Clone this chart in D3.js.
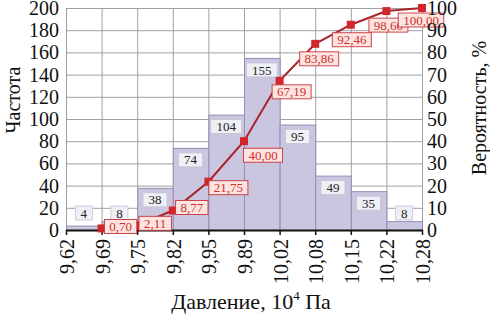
<!DOCTYPE html>
<html>
<head>
<meta charset="utf-8">
<script src="https://cdn.jsdelivr.net/npm/d3@7"></script>
<style>
  html, body { margin: 0; padding: 0; background: #fff; }
  text { font-family: "Liberation Serif", "DejaVu Serif", serif; }
</style>
</head>
<body>
<div id="chart"></div>
<script>
// bin edges (10^4 Pa), frequency per bin, cumulative probability at right edge
const edges = ["9,62", "9,69", "9,75", "9,82", "9,95", "9,89", "10,02", "10,08", "10,15", "10,22", "10,28"];
const freq = [4, 8, 38, 74, 104, 155, 95, 49, 35, 8];
const cumProb = [0.70, 2.11, 8.77, 21.75, 40.00, 67.19, 83.86, 92.46, 98.60, 100.00];
const freqTicks = [0, 20, 40, 60, 80, 100, 120, 140, 160, 180, 200];
const probTicks = [0, 10, 20, 30, 40, 50, 60, 70, 80, 90, 100];

const width = 490, height = 317;
const m = { left: 66, right: 68, top: 8, bottom: 87 };

const svg = d3.select("#chart").append("svg")
    .attr("width", width)
    .attr("height", height);

const x = d3.scalePoint()
    .domain(d3.range(edges.length))
    .range([m.left, width - m.right]);
const yL = d3.scaleLinear().domain([0, 200]).range([height - m.bottom, m.top]);
const yR = d3.scaleLinear().domain([0, 100]).range([height - m.bottom, m.top]);

const fmt = v => v.toFixed(2).replace(".", ",");

// grid
svg.append("g")
    .attr("stroke", "#a0a0a0")
    .attr("stroke-width", 1)
    .call(g => g.selectAll("line.h").data(freqTicks).join("line")
        .attr("x1", m.left).attr("x2", width - m.right)
        .attr("y1", d => yL(d) + 0.5).attr("y2", d => yL(d) + 0.5))
    .call(g => g.selectAll("line.v").data(d3.range(edges.length)).join("line")
        .attr("x1", d => x(d) + 0.5).attr("x2", d => x(d) + 0.5)
        .attr("y1", m.top).attr("y2", height - m.bottom));

// bars
svg.append("g")
    .selectAll("rect")
    .data(freq)
    .join("rect")
    .attr("x", (d, i) => x(i) + 0.5)
    .attr("width", (d, i) => x(i + 1) - x(i))
    .attr("y", d => yL(d) + 0.5)
    .attr("height", d => yL(0) - yL(d))
    .attr("fill", "#cbc6df")
    .attr("stroke", "#958eb8")
    .attr("stroke-width", 1);

// bar labels
const barLab = svg.append("g")
    .selectAll("g")
    .data(freq)
    .join("g")
    .attr("transform", (d, i) =>
        `translate(${(x(i) + x(i + 1)) / 2},${Math.min(yL(d) + 12, yL(0) - 17)})`);
barLab.append("rect")
    .attr("x", d => -(String(d).length * 3.5 + 5))
    .attr("y", -7)
    .attr("width", d => String(d).length * 7 + 10)
    .attr("height", 14)
    .attr("fill", "#efeff6")
    .attr("stroke", "#c4c2d4")
    .attr("stroke-width", 0.8);
barLab.append("text")
    .attr("text-anchor", "middle")
    .attr("dy", "0.35em")
    .attr("font-size", 13)
    .attr("fill", "#222")
    .text(d => d);

// bottom axis line + ticks
svg.append("line")
    .attr("x1", m.left).attr("x2", width - m.right + 1)
    .attr("y1", yL(0) + 0.5).attr("y2", yL(0) + 0.5)
    .attr("stroke", "#111").attr("stroke-width", 2);
svg.append("g")
    .selectAll("line")
    .data(d3.range(edges.length))
    .join("line")
    .attr("x1", d => x(d) + 0.5).attr("x2", d => x(d) + 0.5)
    .attr("y1", yL(0)).attr("y2", yL(0) + 5)
    .attr("stroke", "#111").attr("stroke-width", 1.5);

// cumulative line
const pts = cumProb.map((p, i) => [x(i + 1), yR(p)]);
svg.append("path")
    .attr("d", d3.line()(pts))
    .attr("fill", "none")
    .attr("stroke", "#a8232b")
    .attr("stroke-width", 2);
svg.append("g")
    .selectAll("rect")
    .data(pts)
    .join("rect")
    .attr("x", d => d[0] - 4)
    .attr("y", d => d[1] - 4)
    .attr("width", 8)
    .attr("height", 8)
    .attr("fill", "#d0262c");

// label placement next to each marker (layout only)
const cumLabelOffset = [[19, -2], [18, -2], [19, -3], [20, 6], [19, 14], [12, 11], [4, 15], [1, 15], [2, 14], [-1, 12]];
const cumLab = svg.append("g")
    .selectAll("g")
    .data(cumProb)
    .join("g")
    .attr("transform", (d, i) =>
        `translate(${pts[i][0] + cumLabelOffset[i][0]},${pts[i][1] + cumLabelOffset[i][1]})`);
cumLab.append("rect")
    .attr("x", d => -fmt(d).length * 3.3 - 3)
    .attr("y", -7)
    .attr("width", d => fmt(d).length * 6.6 + 6)
    .attr("height", 14)
    .attr("fill", "#fde4e1")
    .attr("stroke", "#c9333a")
    .attr("stroke-width", 0.9);
cumLab.append("text")
    .attr("text-anchor", "middle")
    .attr("dy", "0.35em")
    .attr("font-size", 13)
    .attr("fill", "#d0302c")
    .text(d => fmt(d));

// left tick labels
svg.append("g")
    .selectAll("text")
    .data(freqTicks)
    .join("text")
    .attr("x", m.left - 7)
    .attr("y", d => yL(d))
    .attr("dy", "0.35em")
    .attr("text-anchor", "end")
    .attr("font-size", 20)
    .attr("fill", "#111")
    .text(d => d);

// right tick labels
svg.append("g")
    .selectAll("text")
    .data(probTicks)
    .join("text")
    .attr("x", width - m.right + 5)
    .attr("y", d => yR(d))
    .attr("dy", "0.35em")
    .attr("text-anchor", "start")
    .attr("font-size", 20)
    .attr("fill", "#111")
    .text(d => d);

// x tick labels, rotated
svg.append("g")
    .selectAll("text")
    .data(edges)
    .join("text")
    .attr("transform", (d, i) => `translate(${x(i) + 1},${yL(0) + 9}) rotate(-90)`)
    .attr("dy", "0.35em")
    .attr("text-anchor", "end")
    .attr("font-size", 20)
    .attr("fill", "#111")
    .text(d => d);

// axis titles
svg.append("text")
    .attr("transform", `translate(13,100) rotate(-90)`)
    .attr("text-anchor", "middle")
    .attr("dy", "0.35em")
    .attr("font-size", 20)
    .attr("fill", "#111")
    .text("Частота");

svg.append("text")
    .attr("transform", `translate(479,108) rotate(-90)`)
    .attr("text-anchor", "middle")
    .attr("dy", "0.35em")
    .attr("font-size", 20)
    .attr("fill", "#111")
    .text("Вероятность, %");

const xt = svg.append("text")
    .attr("x", 251)
    .attr("y", 309)
    .attr("text-anchor", "middle")
    .attr("font-size", 22)
    .attr("fill", "#111");
xt.append("tspan").text("Давление, 10");
xt.append("tspan").attr("font-size", 13).attr("dy", -9).text("4");
xt.append("tspan").attr("dy", 9).text(" Па");
</script>
</body>
</html>
